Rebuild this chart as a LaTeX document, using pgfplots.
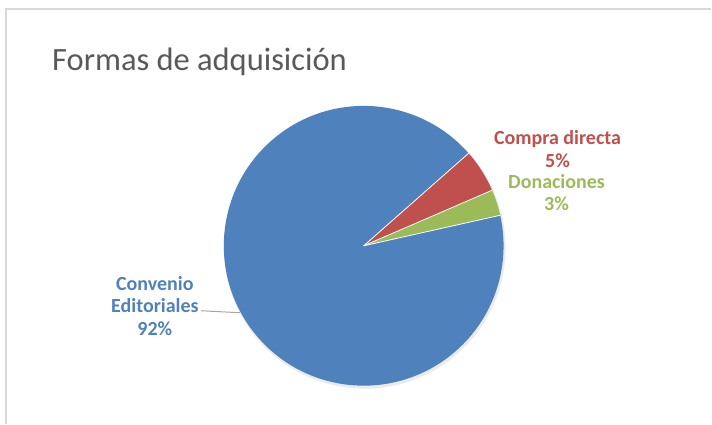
\documentclass[border=0pt]{standalone}
\usepackage{pgfplots}
\pgfplotsset{compat=1.18}
\usepackage{pgfplotstable}
\usepackage{fontspec}
\setmainfont{Carlito}
\definecolor{cBlue}{HTML}{4F81BD}
\definecolor{cRed}{HTML}{C0504D}
\definecolor{cGreen}{HTML}{9BBB59}
\definecolor{cTitle}{HTML}{595959}
\definecolor{cFrame}{HTML}{D9D9D9}
\definecolor{cLeader}{HTML}{A6A6A6}

% share of each form, in %, counterclockwise order from the start angle
\pgfplotstableread{
name value
Donaciones 3
Compra 5
Convenio 92
}\shares

\begin{document}
\begin{tikzpicture}
\begin{axis}[scale only axis, width=712pt, height=424pt,
  xmin=0, xmax=712, ymin=0, ymax=424, hide axis, clip=false]
  % background and frame (pixel units, y measured from bottom)
  \fill[white] (axis cs:0,0) rectangle (axis cs:712,424);
  \draw[cFrame, line width=1.2pt] (axis cs:6,0) -- (axis cs:6,415) -- (axis cs:712,415);
  % pie
  \pgfplotstablegetelem{0}{value}\of\shares \let\vA\pgfplotsretval
  \pgfplotstablegetelem{1}{value}\of\shares \let\vB\pgfplotsretval
  \pgfplotstablegetelem{2}{value}\of\shares \let\vC\pgfplotsretval
  \pgfmathsetmacro\aA{12.6}
  \pgfmathsetmacro\aB{\aA+3.6*\vA}
  \pgfmathsetmacro\aC{\aB+3.6*\vB}
  \pgfmathsetmacro\aD{\aC+3.6*\vC}
  \fill[black!8] (axis cs:365,176) circle[radius=141];
  \fill[cGreen] (axis cs:364,178) -- ++(\aA:140pt) arc[start angle=\aA, end angle=\aB, radius=140pt] -- cycle;
  \fill[cRed] (axis cs:364,178) -- ++(\aB:140pt) arc[start angle=\aB, end angle=\aC, radius=140pt] -- cycle;
  \fill[cBlue] (axis cs:364,178) -- ++(\aC:140pt) arc[start angle=\aC, end angle=\aD, radius=140pt] -- cycle;
  \draw[white, line width=0.8pt] (axis cs:364,178) -- ++(\aA:140pt);
  \draw[white, line width=0.8pt] (axis cs:364,178) -- ++(\aB:140pt);
  \draw[white, line width=0.8pt] (axis cs:364,178) -- ++(\aC:140pt);
  % labels
  \node[anchor=base west, font=\fontsize{32.5}{36}\selectfont, text=cTitle, inner sep=0]
    at (axis cs:52,353) {Formas de adquisición};
  \node[align=center, font=\fontsize{20}{22.5}\selectfont\bfseries, text=cRed, inner sep=0]
    at (axis cs:558,275) {Compra directa\\\vB\%};
  \node[align=center, font=\fontsize{20}{22.5}\selectfont\bfseries, text=cGreen, inner sep=0]
    at (axis cs:557,231) {Donaciones\\\vA\%};
  \node[align=center, font=\fontsize{20}{22.5}\selectfont\bfseries, text=cBlue, inner sep=0]
    at (axis cs:155,118) {Convenio\\Editoriales\\\vC\%};
  \draw[cLeader, line width=1pt] (axis cs:201,113) -- (axis cs:240,111);
\end{axis}
\end{tikzpicture}
\end{document}
